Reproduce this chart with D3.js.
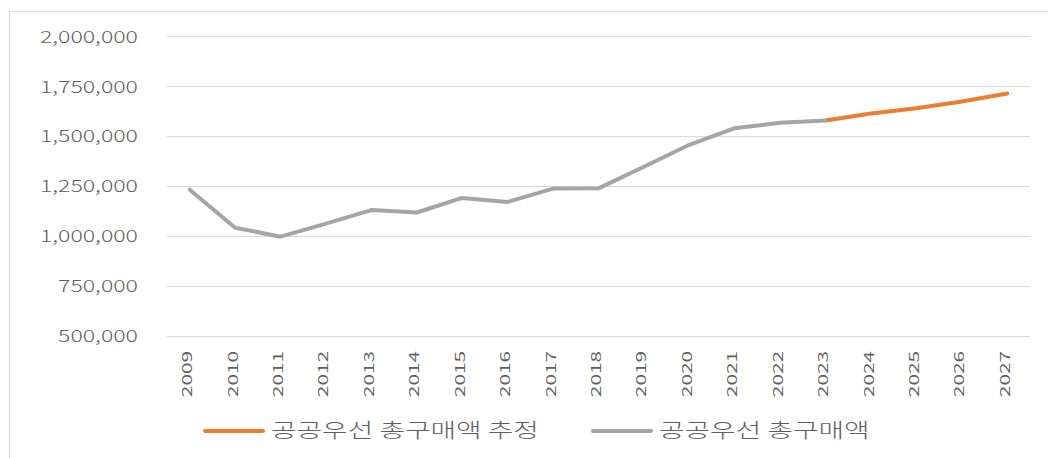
<!DOCTYPE html>
<html>
<head>
<meta charset="utf-8">
<script src="https://cdn.jsdelivr.net/npm/d3@7"></script>
<style>
  html, body { margin: 0; padding: 0; background: #ffffff; }
  svg { display: block; }
  text { font-family: "Noto Sans CJK KR", "Noto Sans", sans-serif; fill: #5f5f5f; font-weight: 300; }
</style>
</head>
<body>
<svg id="chart" width="1048" height="458"></svg>
<script>
// Years on the category axis
const years = ["2009","2010","2011","2012","2013","2014","2015","2016","2017","2018",
               "2019","2020","2021","2022","2023","2024","2025","2026","2027"];

// Actual total purchases (2009–2023)
const actualYears = years.slice(0, 15);
const actualValues = [1230000, 1040000, 995000, 1060000, 1128000, 1116000, 1189000, 1169000, 1236000, 1237000,
                      1345000, 1455000, 1538000, 1566000, 1577000];

// Estimated total purchases (2023–2027)
const estimateYears = ["2023","2024","2025","2026","2027"];
const estimateValues = [1577000, 1612000, 1638000, 1672000, 1712000];

const yTicks = [500000, 750000, 1000000, 1250000, 1500000, 1750000, 2000000];

const seriesNames = ["공공우선 총구매액 추정", "공공우선 총구매액"];
const seriesColors = ["#ED7D31", "#A5A5A5"];

const svg = d3.select("#chart");

// frame edges
svg.append("line").attr("x1", 9.5).attr("x2", 9.5).attr("y1", 11).attr("y2", 458)
  .attr("stroke", "#d9d9d9").attr("stroke-width", 1);
svg.append("line").attr("x1", 9).attr("x2", 1048).attr("y1", 11.5).attr("y2", 11.5)
  .attr("stroke", "#d9d9d9").attr("stroke-width", 1);

const plot = { left: 167, right: 1030, top: 36, bottom: 335.5 };

const x = d3.scalePoint().domain(years).range([plot.left, plot.right]).padding(0.5);
const y = d3.scaleLinear().domain([500000, 2000000]).range([plot.bottom, plot.top]);

// gridlines
svg.append("g").selectAll("line").data(yTicks).join("line")
  .attr("x1", plot.left).attr("x2", plot.right)
  .attr("y1", d => Math.round(y(d)) + 0.5).attr("y2", d => Math.round(y(d)) + 0.5)
  .attr("stroke", "#d9d9d9").attr("stroke-width", 1);

// y-axis labels
const fmt = d3.format(",");
const yAxis = d3.axisLeft(y).tickValues(yTicks).tickFormat(fmt).tickSize(0).tickPadding(0);
const yg = svg.append("g").attr("transform", "translate(138,0)").call(yAxis);
yg.select(".domain").remove();
yg.selectAll(".tick text")
  .attr("x", 0).attr("dy", "0.36em")
  .style("font-size", "17px")
  .attr("transform", "scale(1.36,1)")
  .attr("fill", "#5f5f5f");

// x-axis labels (rotated)
const xAxis = d3.axisBottom(x).tickSize(0).tickPadding(0);
const xg = svg.append("g").attr("transform", "translate(0,350)").call(xAxis);
xg.select(".domain").remove();
xg.selectAll(".tick text")
  .attr("y", 0).attr("x", 0).attr("dy", 0)
  .attr("text-anchor", "end")
  .style("font-size", "13px")
  .style("font-weight", 400)
  .attr("fill", "#5f5f5f")
  .attr("transform", "translate(2,1) rotate(-90) scale(1.6,1)");

// lines
const line = d3.line().x(d => x(d[0])).y(d => y(d[1]));
const estimate = estimateYears.map((yr, i) => [yr, estimateValues[i]]);
const actual = actualYears.map((yr, i) => [yr, actualValues[i]]);

svg.append("path").datum(estimate).attr("d", line)
  .attr("fill", "none").attr("stroke", seriesColors[0]).attr("stroke-width", 4)
  .attr("stroke-linejoin", "round").attr("stroke-linecap", "round");
svg.append("path").datum(actual).attr("d", line)
  .attr("fill", "none").attr("stroke", seriesColors[1]).attr("stroke-width", 4)
  .attr("stroke-linejoin", "round").attr("stroke-linecap", "round");

// legend
const legendItems = [
  { name: seriesNames[0], color: seriesColors[0], x0: 205 },
  { name: seriesNames[1], color: seriesColors[1], x0: 593 }
];
const lg = svg.append("g").selectAll("g").data(legendItems).join("g")
  .attr("transform", d => `translate(${d.x0},431)`);
lg.append("line").attr("x1", 0).attr("x2", 58).attr("y1", 0).attr("y2", 0)
  .attr("stroke", d => d.color).attr("stroke-width", 4).attr("stroke-linecap", "round");
lg.append("text").attr("x", 0).attr("y", 0).attr("dy", "0.36em")
  .attr("transform", "translate(66,0) scale(1.39,1)")
  .style("font-size", "20px")
  .text(d => d.name);
</script>
</body>
</html>
